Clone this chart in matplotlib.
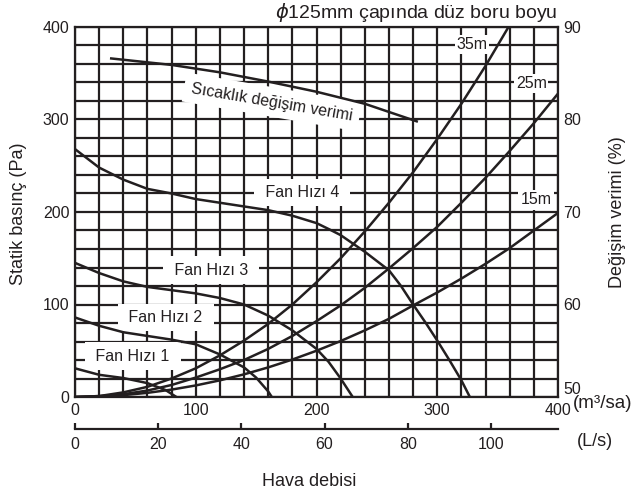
import matplotlib
matplotlib.use('Agg')
import matplotlib.pyplot as plt
import numpy as np

plt.rcParams['font.family'] = ['Liberation Sans', 'DejaVu Sans']
plt.rcParams['font.size'] = 11.5
INK = '#231f20'

# Fan curves (air flow m3/h, static pressure Pa)
fan1_x = [0, 20, 40, 60, 75, 84]
fan1_y = [31, 24, 20.5, 15, 7.5, 0]
fan2_x = [0, 20, 40, 60, 80, 100, 120, 140, 150, 160, 163]
fan2_y = [86, 77, 70, 66, 62, 57, 46, 32, 21, 6, 0]
fan3_x = [0, 20, 40, 60, 80, 100, 120, 140, 160, 180, 200, 210, 220, 230]
fan3_y = [145, 134, 125, 119, 115.5, 112, 107, 100, 88, 72, 52, 38, 20, 0]
fan4_x = [0, 20, 40, 60, 80, 100, 120, 140, 160, 180, 200, 211, 220, 240, 260, 270, 280, 290, 300, 310, 320, 327]
fan4_y = [268, 248, 235, 225, 220, 214, 210, 206, 202, 196, 188, 181, 175, 157, 137, 120, 100, 81, 61, 40, 18, 0]

# Duct resistance curves (straight duct length)
r35_x = [0, 20, 40, 60, 80, 100, 120, 140, 160, 180, 200, 220, 240, 260, 280, 300, 320, 340, 359]
r35_y = [0, 1, 5, 11, 20, 31, 45, 61, 79, 100, 124, 150, 179, 210, 243, 279, 317, 358, 400]
r25_x = [0, 20, 40, 60, 80, 100, 120, 140, 160, 180, 200, 220, 240, 260, 280, 300, 320, 340, 360, 380, 400]
r25_y = [0, 1, 3, 7, 13, 21, 30, 40, 52, 66, 82, 99, 118, 139, 161, 184, 210, 237, 266, 296, 328]
r15_x = [0, 20, 40, 60, 80, 100, 120, 140, 160, 180, 200, 220, 240, 260, 280, 300, 320, 340, 360, 380, 400]
r15_y = [0, 0.5, 2, 4.5, 8, 12.5, 18, 24.5, 32, 40.5, 50, 60.5, 72, 84.5, 99, 113, 128, 144, 161, 180, 199]

# Temperature exchange efficiency (%)
eff_x = [30, 80, 120, 160, 200, 240, 283]
eff_y = [86.6, 85.9, 85.1, 84.1, 83.0, 81.7, 79.8]

xticks_m3 = [0, 100, 200, 300, 400]
yticks_pa = [0, 100, 200, 300, 400]
yticks_eff = [50, 60, 70, 80, 90]
xticks_ls = [0, 20, 40, 60, 80, 100]

fig = plt.figure(figsize=(6.35, 4.95), dpi=100)
ax = fig.add_axes([75/635, 98/495, 483/635, 370/495])
ax.set_xlim(0, 400)
ax.set_ylim(0, 400)
ax.set_xticks(xticks_m3)
ax.set_xticks(np.arange(0, 401, 20), minor=True)
ax.set_yticks(yticks_pa)
ax.set_yticks(np.arange(0, 401, 20), minor=True)
ax.grid(which='both', color=INK, lw=1.6)
ax.set_axisbelow(True)
ax.tick_params(which='both', length=0, pad=4, labelsize=11.5, labelcolor=INK)
for s in ax.spines.values():
    s.set_linewidth(1.6)
    s.set_color(INK)

lw = 1.8
for xs, ys in [(fan1_x, fan1_y), (fan2_x, fan2_y), (fan3_x, fan3_y), (fan4_x, fan4_y),
               (r35_x, r35_y), (r25_x, r25_y), (r15_x, r15_y)]:
    ax.plot(xs, ys, color=INK, lw=lw, zorder=4, solid_capstyle='butt', solid_joinstyle='round')

box = dict(boxstyle='square,pad=0.4', fc='white', ec='none')
lab_fs = 11.5
ax.text(188, 221, ' Fan Hızı 4 ', ha='center', va='center', fontsize=lab_fs, color=INK, bbox=box, zorder=3)
ax.text(112.7, 137, ' Fan Hızı 3 ', ha='center', va='center', fontsize=lab_fs, color=INK, bbox=box, zorder=3)
ax.text(75.2, 86, ' Fan Hızı 2 ', ha='center', va='center', fontsize=lab_fs, color=INK, bbox=box, zorder=3)
ax.text(47.9, 44, ' Fan Hızı 1 ', ha='center', va='center', fontsize=lab_fs, color=INK, bbox=box, zorder=3)
ax.text(329, 381, '35m', ha='center', va='center', fontsize=lab_fs, color=INK,
        bbox=dict(boxstyle='square,pad=0.1', fc='white', ec='none'), zorder=3)
ax.text(378, 339, '25m', ha='center', va='center', fontsize=lab_fs, color=INK,
        bbox=dict(boxstyle='square,pad=0.1', fc='white', ec='none'), zorder=3)
ax.text(382, 213, '15m', ha='center', va='center', fontsize=lab_fs, color=INK,
        bbox=dict(boxstyle='square,pad=0.15', fc='white', ec='none'), zorder=3)

ax2 = ax.twinx()
ax2.set_ylim(50, 90)
ax2.set_yticks(yticks_eff)
ax2.tick_params(length=0, pad=4, labelsize=11.5, labelcolor=INK)
for s in ax2.spines.values():
    s.set_visible(False)
ax2.plot(eff_x, eff_y, color=INK, lw=lw, zorder=4)
ax2.text(163, 81.9, 'Sıcaklık değişim verimi', ha='center', va='center', rotation=-9.7,
         rotation_mode='anchor', fontsize=lab_fs, color=INK,
         bbox=dict(boxstyle='square,pad=0.45', fc='white', ec='none'), zorder=3)
ax2.get_yticklabels()[0].set_va('bottom')

# L/s axis
axl = fig.add_axes([75/635, (495-429)/495, 483/635, 1e-4])
axl.patch.set_visible(False)
axl.set_xlim(0, 483/4.16)
axl.set_xticks(xticks_ls)
axl.set_yticks([])
for k in ['left', 'right', 'top']:
    axl.spines[k].set_visible(False)
axl.spines['bottom'].set_linewidth(1.6)
axl.spines['bottom'].set_color(INK)
axl.tick_params(axis='x', direction='in', length=4, width=1.6, color=INK, pad=5.5,
                labelsize=11.5, labelcolor=INK)

fig.text(573/635, 1-404/495, '(m³/sa)', ha='left', va='center', fontsize=13.5, color=INK)
fig.text(595/635, 1-442/495, '(L/s)', ha='center', va='center', fontsize=13, color=INK)
fig.text(309/635, 1-482/495, 'Hava debisi', ha='center', va='center', fontsize=13, color=INK)
fig.text(19/635, 1-214/495, 'Statik basınç (Pa)', rotation=90, ha='center', va='center', fontsize=13, color=INK)
fig.text(618/635, 1-212/495, 'Değişim verimi (%)', rotation=90, ha='center', va='center', fontsize=13, color=INK)
fig.text(557/635, 1-12/495, '$\\phi$125mm çapında düz boru boyu', ha='right', va='center', fontsize=14, color=INK)

fig.savefig('out.png', dpi=100)
